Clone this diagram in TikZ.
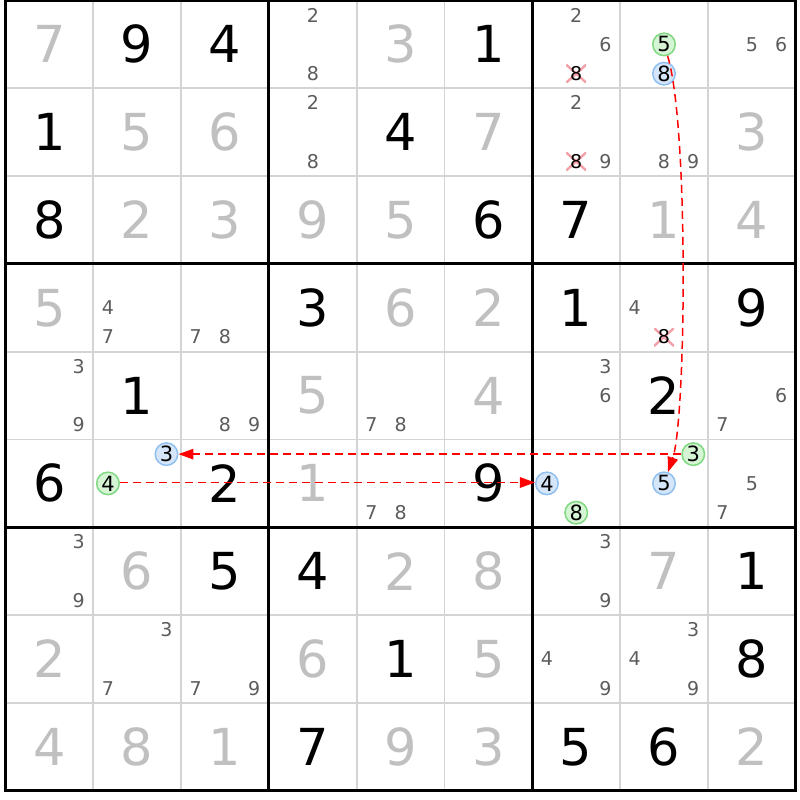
\documentclass[tikz,border=0pt]{standalone}
\usepackage{fontspec}
\setmainfont{DejaVu Sans}
\usetikzlibrary{arrows.meta}
\definecolor{givengray}{HTML}{C0C0C0}
\definecolor{candgray}{HTML}{5C5C5C}
\definecolor{thingrid}{HTML}{D4D4D4}
\definecolor{greenfill}{HTML}{D5F5D5}
\definecolor{greenline}{HTML}{80D880}
\definecolor{bluefill}{HTML}{D5E6FB}
\definecolor{blueline}{HTML}{90C0F0}
\definecolor{xpink}{HTML}{F4A0A8}
\definecolor{chainred}{HTML}{FF0000}
\newcommand\bigcell[4]{% style, row, col, digit
  \node[#1] (g-#2-#3) at ({5.5+87.8*(#3+0.5)},{0.5+87.8*(#2+0.5)}) {#4};}
\newcommand\candnode[4]{% style, row, col, digit
  \pgfmathsetmacro\candx{5.5+87.8*#3+29.2667*(mod(#4-1,3)+0.5)}
  \pgfmathsetmacro\candy{0.5+87.8*#2+29.2667*(int((#4-1)/3)+0.5)}
  \node[#1] (k-#2-#3-#4) at (\candx,\candy) {#4};}
\begin{document}
\begin{tikzpicture}[x=1pt,y=-1pt,
  thin grid/.style={thingrid, line width=1.8pt},
  thick grid/.style={black, line width=3pt},
  bigdigit/.style={inner sep=0pt, font=\fontsize{51}{51}\selectfont},
  givenst/.style={bigdigit, text=givengray},
  solvedst/.style={bigdigit, text=black},
  candst/.style={inner sep=0pt, text=candgray, font=\fontsize{19}{19}\selectfont},
  crossst/.style={candst, text=black, fill=white, minimum width=20pt, minimum height=18pt,
    path picture={\draw[xpink, line width=2.4pt]
      (path picture bounding box.north west) -- (path picture bounding box.south east)
      (path picture bounding box.north east) -- (path picture bounding box.south west);}},
  greenst/.style={circle, draw=greenline, fill=greenfill, line width=1.5pt, minimum size=22.5pt,
    inner sep=0pt, text=black, font=\fontsize{21}{21}\selectfont},
  bluest/.style={greenst, draw=blueline, fill=bluefill},
  chainarrow/.style={draw=chainred, line width=1.5pt, dash pattern=on 8pt off 5pt,
    -{Triangle[length=15pt,width=10.5pt,fill=chainred]}}]
\useasboundingbox (0,0) rectangle (800,800);
\fill[white] (0,0) rectangle (800,800);
% grid
\foreach \i in {1,2,4,5,7,8} {
  \draw[thin grid] ({5.5+87.8*\i},0.5) -- ({5.5+87.8*\i},790.7);
  \draw[thin grid] (5.5,{0.5+87.8*\i}) -- (795.7,{0.5+87.8*\i});
}
\foreach \i in {0,3,6,9} {
  \draw[thick grid] ({5.5+87.8*\i},-1) -- ({5.5+87.8*\i},792.2);
  \draw[thick grid] (4,{0.5+87.8*\i}) -- (797.2,{0.5+87.8*\i});
}
% given digits (gray)
\foreach \r/\c/\v in {0/0/7,0/4/3,1/1/5,1/2/6,1/5/7,1/8/3,2/1/2,2/2/3,2/3/9,2/4/5,2/7/1,2/8/4,
  3/0/5,3/4/6,3/5/2,4/3/5,4/5/4,5/3/1,6/1/6,6/4/2,6/5/8,6/7/7,7/0/2,7/3/6,7/5/5,
  8/0/4,8/1/8,8/2/1,8/4/9,8/5/3,8/8/2}
  {\bigcell{givenst}{\r}{\c}{\v}}
% solved digits (black)
\foreach \r/\c/\v in {0/1/9,0/2/4,0/5/1,1/0/1,1/4/4,2/0/8,2/5/6,2/6/7,3/3/3,3/6/1,3/8/9,
  4/1/1,4/7/2,5/0/6,5/2/2,5/5/9,6/2/5,6/3/4,6/8/1,7/4/1,7/8/8,8/3/7,8/6/5,8/7/6}
  {\bigcell{solvedst}{\r}{\c}{\v}}
% candidates
\foreach \r/\c/\d in {0/3/2,0/3/8,0/6/2,0/6/6,0/8/5,0/8/6,
  1/3/2,1/3/8,1/6/2,1/6/9,1/7/8,1/7/9,
  3/1/4,3/1/7,3/2/7,3/2/8,3/7/4,
  4/0/3,4/0/9,4/2/8,4/2/9,4/4/7,4/4/8,4/6/3,4/6/6,4/8/6,4/8/7,
  5/4/7,5/4/8,5/8/5,5/8/7,
  6/0/3,6/0/9,6/6/3,6/6/9,
  7/1/3,7/1/7,7/2/7,7/2/9,7/6/4,7/6/9,7/7/3,7/7/4,7/7/9}
  {\candnode{candst}{\r}{\c}{\d}}
% eliminated candidates
\foreach \r/\c/\d in {0/6/8,1/6/8,3/7/8}
  {\candnode{crossst}{\r}{\c}{\d}}
% highlighted candidates
\foreach \r/\c/\d in {0/7/5,5/1/4,5/6/8,5/7/3}
  {\candnode{greenst}{\r}{\c}{\d}}
\foreach \r/\c/\d in {0/7/8,5/1/3,5/6/4,5/7/5}
  {\candnode{bluest}{\r}{\c}{\d}}
% chain links
\draw[chainarrow] (k-0-7-5) .. controls (689,125) and (686,420) .. (k-5-7-5);
\draw[chainarrow] (k-5-7-3) -- (k-5-1-3);
\draw[chainarrow] ([yshift=0.9pt]k-5-1-4.east) -- ([yshift=0.9pt]k-5-6-4.west);
\end{tikzpicture}
\end{document}
